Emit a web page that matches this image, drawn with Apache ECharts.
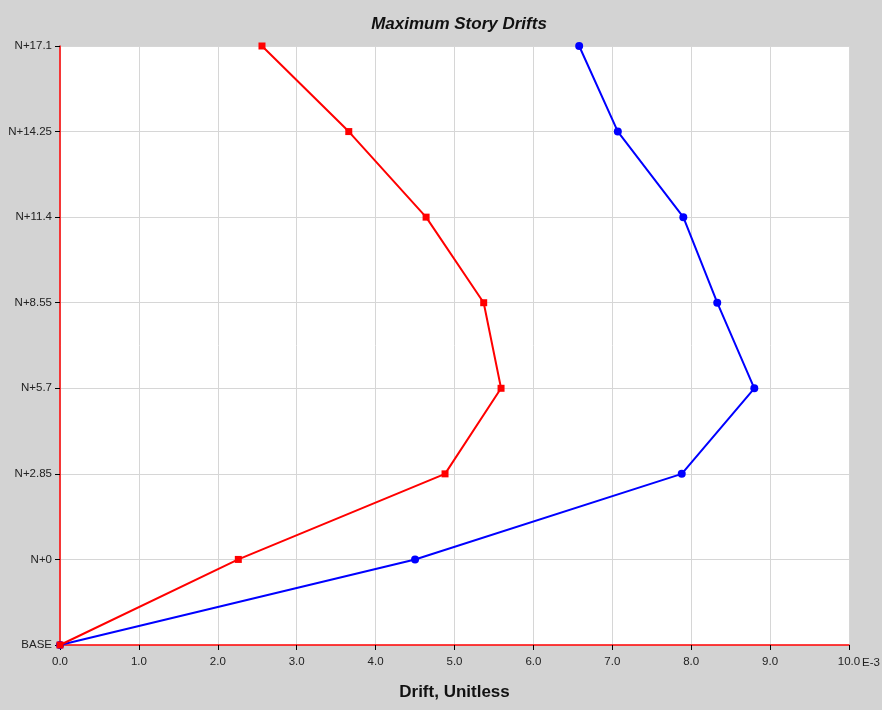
<!DOCTYPE html>
<html><head><meta charset="utf-8">
<script src="https://cdn.jsdelivr.net/npm/echarts@6/dist/echarts.min.js"></script>
<style>html,body{margin:0;padding:0;background:#d3d3d3;}#c{width:882px;height:710px;}</style>
</head><body><div id="c"></div>
<script>
const stories = ['BASE','N+0','N+2.85','N+5.7','N+8.55','N+11.4','N+14.25','N+17.1'];
const redDrift = [0, 2.26, 4.88, 5.59, 5.37, 4.64, 3.66, 2.56];
const blueDrift = [0, 4.50, 7.88, 8.80, 8.33, 7.90, 7.07, 6.58];
const xTicks = [0,1,2,3,4,5,6,7,8,9,10];

const FONT = '"Liberation Sans Narrow", "Liberation Sans", Arial, sans-serif';
const chart = echarts.init(document.getElementById('c'));
chart.setOption({
  backgroundColor: '#d3d3d3',
  animation: false,
  title: {
    text: 'Maximum Story Drifts', left: 454, textAlign: 'center', top: 11,
    textStyle: {fontFamily: '"Liberation Sans", Arial', fontStyle: 'italic', fontWeight: 'bold', fontSize: 17, color: '#111'}
  },
  grid: {left: 60, right: 33, top: 46, bottom: 65, show: true, backgroundColor: '#ffffff', borderWidth: 0},
  xAxis: {
    type: 'value', min: 0, max: 10, interval: 1,
    name: 'Drift, Unitless', nameLocation: 'middle', nameGap: 39,
    nameTextStyle: {fontFamily: '"Liberation Sans", Arial', fontWeight: 'bold', fontSize: 17, color: '#111'},
    axisLine: {show: true, lineStyle: {color: '#ff0000', width: 1.5}},
    axisTick: {show: true, length: 5, lineStyle: {color: '#000'}},
    axisLabel: {fontFamily: FONT, fontSize: 11.5, color: '#222', margin: 11,
      formatter: v => v.toFixed(1)},
    splitLine: {show: true, lineStyle: {color: '#d6d6d6', width: 1}}
  },
  yAxis: {
    type: 'category', data: stories, boundaryGap: false,
    axisLine: {show: true, lineStyle: {color: '#ff0000', width: 1.5}},
    axisTick: {show: true, length: 5, alignWithLabel: true, lineStyle: {color: '#000'}},
    axisLabel: {fontFamily: FONT, fontSize: 11.5, color: '#222', margin: 8},
    splitLine: {show: true, lineStyle: {color: '#d6d6d6', width: 1}}
  },
  graphic: [{
    type: 'text', left: 862, top: 657,
    style: {text: 'E-3', font: '11.5px ' + FONT, fill: '#222'}
  }],
  series: [
    {type: 'line', data: redDrift.map((v,i)=>[v, stories[i]]), symbol: 'rect', symbolSize: 7,
     lineStyle: {color: '#ff0000', width: 2}, itemStyle: {color: '#ff0000'}, z: 3},
    {type: 'line', data: blueDrift.map((v,i)=>[v, stories[i]]), symbol: 'circle', symbolSize: 8,
     lineStyle: {color: '#0000ff', width: 2}, itemStyle: {color: '#0000ff'}, z: 2}
  ]
});
</script></body></html>
